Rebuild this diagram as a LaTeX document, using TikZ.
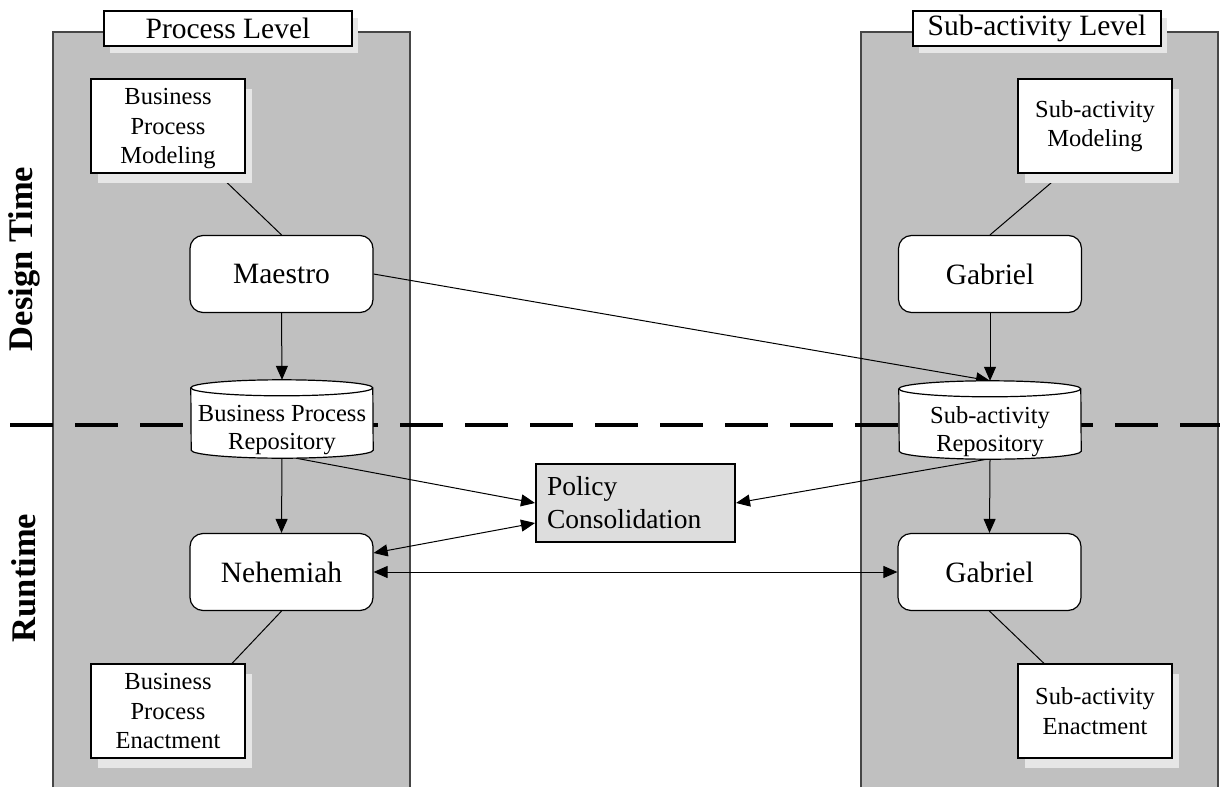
\documentclass[tikz,border=0pt]{standalone}
\usepackage{fontspec}
\setmainfont{Liberation Serif}
\usetikzlibrary{arrows.meta,shadows,calc}
\pgfdeclarelayer{back}
\pgfdeclarelayer{dash}
\pgfdeclarelayer{mid}
\pgfdeclarelayer{shp}
\pgfsetlayers{back,dash,mid,shp,main}
\definecolor{panelgray}{RGB}{192,192,192}
\definecolor{shadowgray}{RGB}{230,230,230}
\definecolor{pcgray}{RGB}{221,221,221}
\definecolor{edgegray}{RGB}{70,70,70}
\tikzset{
  lvlbox/.style={draw, fill=white, line width=1.2pt, minimum width=248pt, minimum height=35pt, inner sep=0pt,
    font=\fontsize{29.5}{32}\selectfont,
    general shadow={fill=shadowgray, shadow xshift=6pt, shadow yshift=-7pt}},
  actbox/.style={draw, fill=white, line width=1.2pt, minimum width=154pt, minimum height=94pt, inner sep=0pt,
    align=center, font=\fontsize{24.5}{29.5}\selectfont,
    general shadow={fill=shadowgray, shadow xshift=7pt, shadow yshift=-10pt}},
  toolbox/.style={draw, fill=white, rounded corners=13pt, line width=1.2pt, minimum width=183pt,
    minimum height=77pt, inner sep=0pt, font=\fontsize{29.5}{32}\selectfont},
  repo/.style={minimum width=182pt, minimum height=78pt, inner sep=0pt},
  repotext/.style={align=center, inner sep=0pt, font=\fontsize{24.5}{28}\selectfont},
  cyl/.style={draw, fill=white, line width=1.2pt},
  conn/.style={line width=1pt},
  arr/.style={conn, -{Triangle[length=14pt,width=12pt]}},
  biarr/.style={conn, {Triangle[length=14pt,width=12pt]}-{Triangle[length=14pt,width=12pt]}},
  phase/.style={font=\fontsize{34.5}{37}\selectfont\bfseries, rotate=90, inner sep=0pt},
  panel/.style={fill=panelgray},
  paneledge/.style={draw=edgegray, line width=1.5pt},
  pcbox/.style={draw, fill=pcgray, line width=2pt, minimum width=199pt, minimum height=78pt,
    text width=177pt, inner xsep=11pt, align=left, font=\fontsize{27.5}{33}\selectfont},
}
\newcommand{\cylshape}[1]{%
  \path[cyl] ($(#1.north west)+(0,8)$)
    arc[start angle=180, end angle=0, x radius=91pt, y radius=8pt]
    -- ($(#1.south east)+(0,-8)$)
    arc[start angle=0, end angle=-180, x radius=91pt, y radius=8pt]
    -- cycle;
  \draw[line width=1.2pt] ($(#1.north west)+(0,8)$)
    arc[start angle=180, end angle=360, x radius=91pt, y radius=8pt];
}
\begin{document}
\begin{tikzpicture}[x=1pt, y=-1pt]
\useasboundingbox (0,0) rectangle (1220,787);

% panels
\begin{pgfonlayer}{back}
  \fill[panel] (53,32) rectangle (410,787);
  \draw[paneledge] (53,787) -- (53,32) -- (410,32) -- (410,787);
  \fill[panel] (861,32) rectangle (1218,787);
  \draw[paneledge] (861,787) -- (861,32) -- (1218,32) -- (1218,787);
\end{pgfonlayer}

% phase separator
\begin{pgfonlayer}{dash}
  \coordinate (sepL) at (10,425);
  \coordinate (sepR) at (1220,425);
  \draw[line width=4pt, dash pattern=on 43pt off 22pt] (sepL) -- (sepR);
\end{pgfonlayer}

% phase labels
\node[phase] (design) at (24,259) {Design Time};
\node[phase] (runtime) at (24,578) {Runtime};

% level titles
\node[lvlbox] (pl) at (228,28.5) {Process Level};
\node[lvlbox] (sal) at (1037,28.5) {Sub-activity Level};

% activity boxes
\node[actbox, text depth=0pt] (bpm) at (168,126) {Business\\Process\\Modeling};
\node[actbox] (sam) at (1095,126) {Sub-activity\\Modeling};
\node[actbox] (bpe) at (168,711) {Business\\Process\\Enactment};
\node[actbox] (sae) at (1095,711) {Sub-activity\\Enactment};

% tools
\node[toolbox] (maestro) at (281.5,274) {Maestro};
\node[toolbox] (gab1) at (990,274) {Gabriel};
\node[toolbox] (neh) at (281.5,572) {Nehemiah};
\node[toolbox] (gab2) at (989.5,572) {Gabriel};

% repositories
\node[repo] (bpr) at (282,419) {};
\node[repo] (subrep) at (990,420) {};
\begin{pgfonlayer}{shp}
  \cylshape{bpr}
  \cylshape{subrep}
\end{pgfonlayer}
\node[repotext] (bprtxt) at ($(bpr.center)+(0,11)$) {Business Process\\Repository};
\node[repotext] (subreptxt) at ($(subrep.center)+(0,12)$) {Sub-activity\\Repository};

% policy consolidation
\node[pcbox] (pc) at (635.5,503) {Policy\\Consolidation};

% connectors
\begin{pgfonlayer}{mid}
  \draw[conn] (bpm.center) -- (maestro.north);
  \draw[conn] ([xshift=-33pt]sam.south) -- (gab1.north);
  \draw[arr] (maestro.south) -- (bpr.north);
  \draw[arr] (gab1.south) -- (subrep.north);
  \draw[arr] (maestro.east) -- (subrep.north);
  \draw[arr] (bpr.south) -- (neh.north);
  \draw[arr] (subrep.south) -- (gab2.north);
  \draw[arr] ([xshift=14pt]bpr.south) -- (pc.west);
  \draw[arr] ([xshift=-3pt]subrep.south) -- (pc.east);
  \draw[biarr] ([yshift=19pt]neh.east) -- ([yshift=-20pt]pc.west);
  \draw[biarr] (neh.east) -- (gab2.west);
  \draw[conn] (neh.south) -- ([xshift=64pt]bpe.north);
  \draw[conn] (gab2.south) -- ([xshift=-51pt]sae.north);
\end{pgfonlayer}
\end{tikzpicture}
\end{document}
